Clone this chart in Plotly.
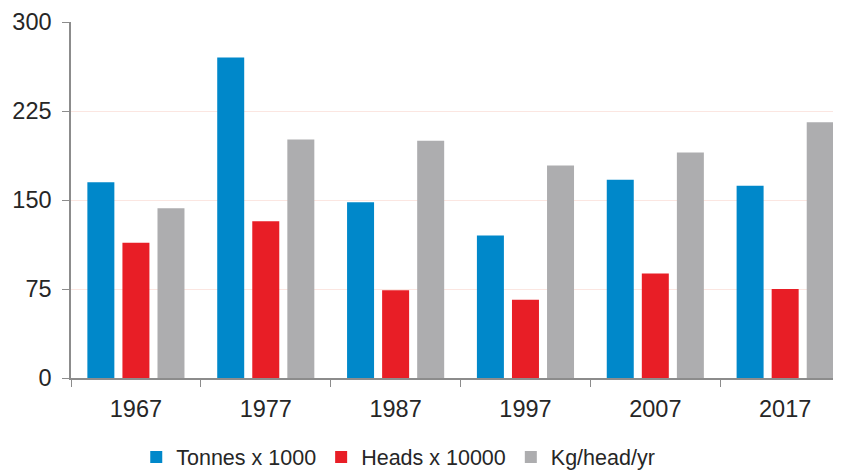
import plotly.graph_objects as go

years = ["1967", "1977", "1987", "1997", "2007", "2017"]
tonnes = [165, 270, 148, 120, 167, 162]
heads = [114, 132, 74, 66, 88, 75]
kg = [143, 201, 200, 179, 190, 215.5]
y_ticks = [0, 75, 150, 225, 300]

series = [
    ("Tonnes x 1000", tonnes, "#0088CA"),
    ("Heads x 10000", heads, "#E81E26"),
    ("Kg/head/yr", kg, "#ADADAF"),
]

fig = go.Figure()
for name, vals, col in series:
    fig.add_trace(go.Bar(x=years, y=vals, name=name, marker_color=col,
                         marker_line_width=0))

font = "Liberation Sans, Arial, sans-serif"
fig.update_layout(
    width=833, height=462,
    margin=dict(l=63, r=0, t=14, b=92, autoexpand=False),
    paper_bgcolor="white", plot_bgcolor="white",
    barmode="group", bargap=0.19, bargroupgap=0.23,
    font=dict(family=font, color="#262626"),
    showlegend=True,
    legend=dict(orientation="h", x=0.425, xanchor="center",
                yref="container", y=0.028, yanchor="middle",
                font=dict(size=21.5, color="#262626"), itemwidth=30,
                traceorder="normal"),
)
fig.update_xaxes(
    type="category", range=[-0.5, 5.43],
    showline=True, linecolor="#8C8C8C", linewidth=1.5,
    ticks="outside", tickson="boundaries", ticklen=7, tickcolor="#8C8C8C",
    tickfont=dict(size=23.5, color="#262626"), ticklabelstandoff=9,
    showgrid=False,
)
fig.update_yaxes(
    range=[0, 300], tickvals=y_ticks, ticktext=[str(v) for v in y_ticks],
    showline=True, linecolor="#8C8C8C", linewidth=1.5,
    ticks="outside", ticklen=7, tickcolor="#8C8C8C",
    tickfont=dict(size=23.5, color="#262626"), ticklabelstandoff=6,
    showgrid=True, gridcolor="#FBE6E1", gridwidth=1, zeroline=False,
)
fig.write_html("out.html")
